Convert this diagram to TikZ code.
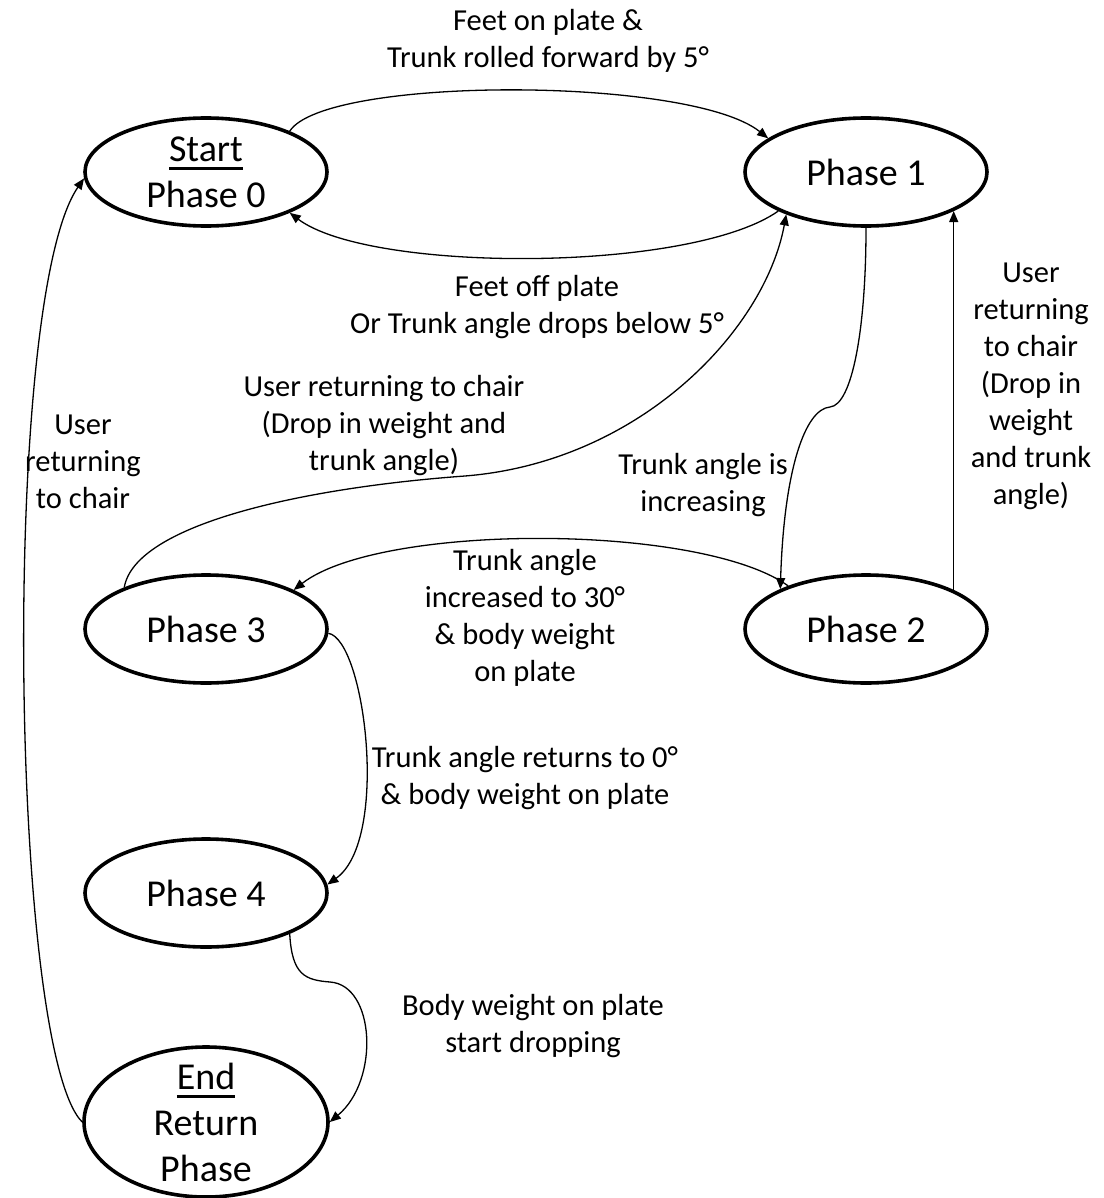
\documentclass[tikz,border=0pt]{standalone}
\usepackage{fontspec}
\setmainfont{Carlito}
\usetikzlibrary{shapes.geometric,arrows.meta}
% underlined heading word with a heavy rule
\newsavebox\hwbox
\newcommand\headword[1]{\sbox\hwbox{#1}\rlap{\rule[-8.5pt]{\wd\hwbox}{3pt}}\usebox\hwbox}
\begin{document}
\begin{tikzpicture}[x=1pt,y=-1pt,
  state/.style={ellipse, draw, line width=3.6pt, minimum width=242pt,
    minimum height=108pt, inner sep=-20pt, align=center,
    font=\fontsize{38}{46}\selectfont},
  lbl/.style={align=center, inner sep=0pt, font=\fontsize{30.5}{37}\selectfont},
  arr/.style={-{Triangle[length=11pt,width=9pt]}, line width=1.3pt}]
\useasboundingbox (0,0) rectangle (1103,1198);

% states
\node[state] (s0) at (206,172) {\headword{Start}\\Phase 0};
\node[state] (p1) at (866,172) {Phase 1};
\node[state] (p3) at (206,629) {Phase 3};
\node[state] (p2) at (866,629) {Phase 2};
\node[state] (p4) at (206,893) {Phase 4};
\node[state, minimum width=244pt, minimum height=150pt] (end) at (206,1122)
  {\headword{End}\\Return\\Phase};

% transitions
\draw[arr] (s0.26) .. controls (325,76) and (690,76) .. (p1.161);
\draw[arr] (p1.204) .. controls (690,273) and (370,273) .. (s0.334);
\draw[arr] (p3.153) .. controls (135,525) and (300,488) .. (465,476)
  .. controls (640,462) and (765,330) .. (p1.208);
\draw[arr] (p1.270) .. controls (866,330) and (852,405) .. (830,407)
  .. controls (805,409) and (784,470) .. (p2.155);
\draw[arr] (p2.24) -- (p1.336);
\draw[arr] (p2.151) .. controls (700,523) and (380,523) .. (p3.24);
\draw[arr] (p3.-2) .. controls (365,640) and (390,840) .. (p4.4);
\draw[arr] (p4.334) .. controls (292,975) and (305,980) .. (330,982)
  .. controls (375,985) and (380,1080) .. (end.0);
\draw[arr] (end.180) .. controls (10,1050) and (0,300) .. (s0.183);

% transition labels
\node[lbl] (t01) at (548,41) {Feet on plate \&\\Trunk rolled forward by 5°};
\node[lbl] (t10) at (537,307.5) {Feet off plate\\Or Trunk angle drops below 5°};
\node[lbl] (t31) at (384,426) {User returning to chair\\(Drop in weight and\\trunk angle)};
\node[lbl] (t12) at (703,485.5) {Trunk angle is\\increasing};
\node[lbl] (t21) at (1031,386) {User\\returning\\to chair\\(Drop in\\weight\\and trunk\\angle)};
\node[lbl] (te0) at (83,462) {User\\returning\\to chair};
\node[lbl] (t23) at (525,618) {Trunk angle\\increased to 30°\\\& body weight\\on plate};
\node[lbl] (t34) at (525,778.5) {Trunk angle returns to 0°\\\& body weight on plate};
\node[lbl] (t4e) at (533,1026) {Body weight on plate\\start dropping};
\end{tikzpicture}
\end{document}
